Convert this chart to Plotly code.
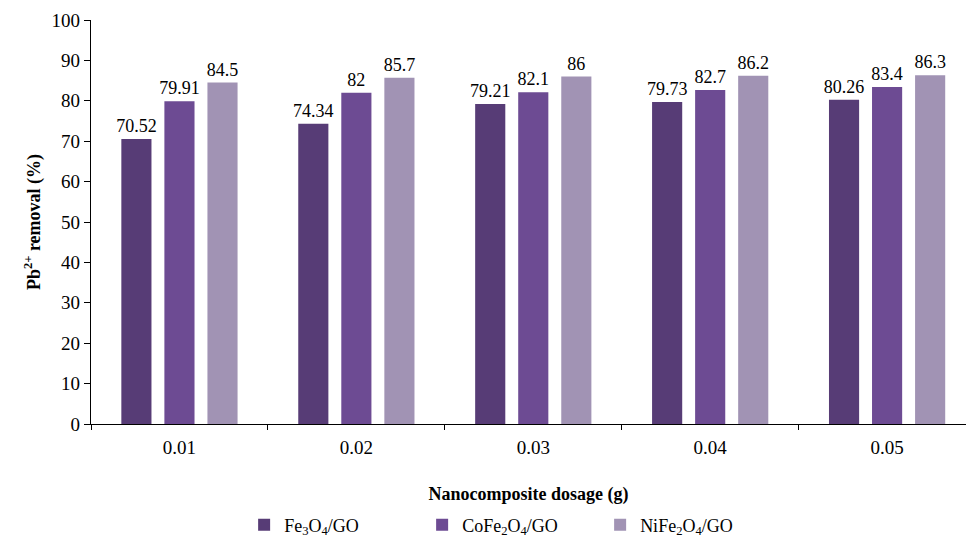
import plotly.graph_objects as go

categories = ["0.01", "0.02", "0.03", "0.04", "0.05"]
fe3o4_go = [70.52, 74.34, 79.21, 79.73, 80.26]
cofe2o4_go = [79.91, 82, 82.1, 82.7, 83.4]
nife2o4_go = [84.5, 85.7, 86, 86.2, 86.3]

series = [
    ("Fe<sub>3</sub>O<sub>4</sub>/GO", fe3o4_go, "#573c76"),
    ("CoFe<sub>2</sub>O<sub>4</sub>/GO", cofe2o4_go, "#6d4b93"),
    ("NiFe<sub>2</sub>O<sub>4</sub>/GO", nife2o4_go, "#a193b4"),
]

FONT = "Liberation Serif"

fig = go.Figure()
for name, vals, col in series:
    fig.add_trace(go.Bar(
        x=categories, y=vals, name=name,
        marker=dict(color=col, line=dict(width=0)),
        text=[f"{v:g}" for v in vals],
        textposition="outside",
        constraintext="none",
        textfont=dict(family=FONT, size=18, color="black"),
        cliponaxis=False,
    ))

fig.update_layout(
    width=966, height=544,
    margin=dict(l=91, r=0, t=20, b=120, autoexpand=False),
    paper_bgcolor="white", plot_bgcolor="white",
    barmode="group", bargap=0.27, bargroupgap=0.30,
    font=dict(family=FONT, size=18, color="black"),
    showlegend=True,
    legend=dict(
        orientation="h", x=0.175, xanchor="left",
        yref="container", y=0.035, yanchor="middle",
        entrywidth=133, entrywidthmode="pixels",
        font=dict(family=FONT, size=18, color="black"),
        traceorder="normal",
    ),
    xaxis=dict(
        type="category",
        range=[-0.5, 4.446],
        showline=True, linecolor="black", linewidth=1.3,
        ticks="outside", tickson="boundaries", ticklen=5, tickcolor="black",
        tickfont=dict(family=FONT, size=19), ticklabelstandoff=6,
        showgrid=False, zeroline=False,
        title=dict(text="<b>Nanocomposite dosage (g)</b>", font=dict(family=FONT, size=18), standoff=30),
    ),
    yaxis=dict(
        range=[0, 100], dtick=10,
        showline=True, linecolor="black", linewidth=1.3,
        ticks="outside", ticklen=6, tickcolor="black",
        tickfont=dict(family=FONT, size=19),
        showgrid=False, zeroline=False,
        title=dict(text="<b>Pb<sup>2+</sup> removal (%)</b>", font=dict(family=FONT, size=18), standoff=6),
    ),
)

fig.write_html("out.html")
